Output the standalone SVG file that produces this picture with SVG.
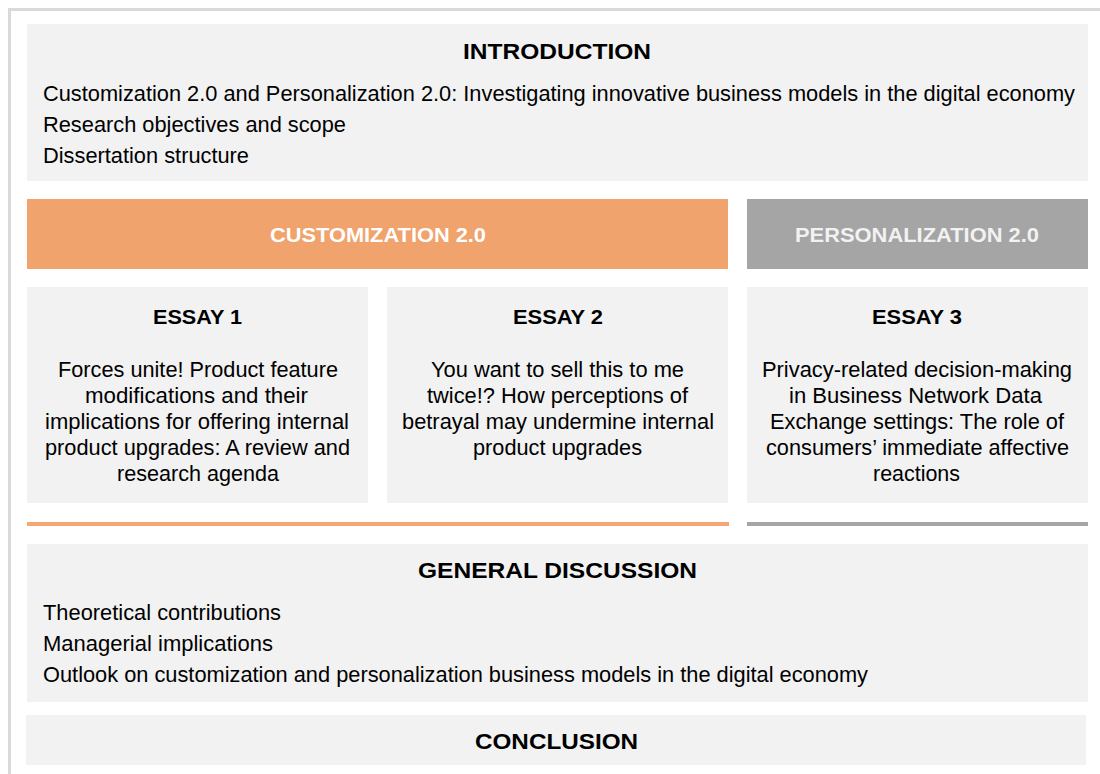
<svg xmlns="http://www.w3.org/2000/svg" width="1100" height="774" viewBox="0 0 1100 774">
<style>
.box{fill:#f2f2f2}
.t{font-family:"Liberation Sans",Arial,sans-serif;font-size:21.5px;fill:#000}
.h{font-family:"Liberation Sans",Arial,sans-serif;font-size:22px;font-weight:bold;fill:#000}
.e{font-family:"Liberation Sans",Arial,sans-serif;font-size:20px;font-weight:bold;fill:#000}
.w{font-family:"Liberation Sans",Arial,sans-serif;font-size:20px;font-weight:bold;fill:#fff}
</style>
<rect x="0" y="0" width="1100" height="774" fill="#fff"/>
<rect x="9.5" y="9.5" width="1200" height="900" fill="none" stroke="#d9d9d9" stroke-width="3"/>
<g id="introduction">
<rect class="box" x="27" y="24" width="1061" height="157"/>
<text class="h" x="463" y="59" textLength="188" lengthAdjust="spacingAndGlyphs">INTRODUCTION</text>
<text class="t" x="43" y="101" textLength="1032" lengthAdjust="spacingAndGlyphs">Customization 2.0 and Personalization 2.0: Investigating innovative business models in the digital economy</text>
<text class="t" x="43" y="132" textLength="303" lengthAdjust="spacingAndGlyphs">Research objectives and scope</text>
<text class="t" x="43" y="163" textLength="206" lengthAdjust="spacingAndGlyphs">Dissertation structure</text>
</g>
<g id="customization">
<rect x="27" y="199" width="701" height="70" fill="#f0a36c"/>
<text class="w" x="270" y="242" textLength="216" lengthAdjust="spacingAndGlyphs">CUSTOMIZATION 2.0</text>
</g>
<g id="personalization">
<rect x="747" y="199" width="341" height="70" fill="#a5a5a5"/>
<text class="w" x="795" y="242" textLength="244" lengthAdjust="spacingAndGlyphs" style="fill:#f2f2f2">PERSONALIZATION 2.0</text>
</g>
<g id="essay1">
<rect class="box" x="27" y="287" width="341" height="216"/>
<text class="e" x="153" y="324" textLength="89" lengthAdjust="spacingAndGlyphs">ESSAY 1</text>
<text class="t" x="58" y="377" textLength="280" lengthAdjust="spacingAndGlyphs">Forces unite! Product feature</text>
<text class="t" x="85" y="403" textLength="223" lengthAdjust="spacingAndGlyphs">modifications and their</text>
<text class="t" x="45" y="429" textLength="304" lengthAdjust="spacingAndGlyphs">implications for offering internal</text>
<text class="t" x="45" y="455" textLength="305" lengthAdjust="spacingAndGlyphs">product upgrades: A review and</text>
<text class="t" x="117" y="481" textLength="162" lengthAdjust="spacingAndGlyphs">research agenda</text>
</g>
<g id="essay2">
<rect class="box" x="387" y="287" width="341" height="216"/>
<text class="e" x="513" y="324" textLength="90" lengthAdjust="spacingAndGlyphs">ESSAY 2</text>
<text class="t" x="431" y="377" textLength="253" lengthAdjust="spacingAndGlyphs">You want to sell this to me</text>
<text class="t" x="427" y="403" textLength="261" lengthAdjust="spacingAndGlyphs">twice!? How perceptions of</text>
<text class="t" x="402" y="429" textLength="312" lengthAdjust="spacingAndGlyphs">betrayal may undermine internal</text>
<text class="t" x="473" y="455" textLength="169" lengthAdjust="spacingAndGlyphs">product upgrades</text>
</g>
<g id="essay3">
<rect class="box" x="747" y="287" width="341" height="216"/>
<text class="e" x="872" y="324" textLength="90" lengthAdjust="spacingAndGlyphs">ESSAY 3</text>
<text class="t" x="762" y="377" textLength="310" lengthAdjust="spacingAndGlyphs">Privacy-related decision-making</text>
<text class="t" x="789" y="403" textLength="253" lengthAdjust="spacingAndGlyphs">in Business Network Data</text>
<text class="t" x="770" y="429" textLength="294" lengthAdjust="spacingAndGlyphs">Exchange settings: The role of</text>
<text class="t" x="766" y="455" textLength="303" lengthAdjust="spacingAndGlyphs">consumers’ immediate affective</text>
<text class="t" x="873" y="481" textLength="87" lengthAdjust="spacingAndGlyphs">reactions</text>
</g>
<g id="connectors">
<rect x="27" y="522" width="702" height="4" fill="#f4a774"/>
<rect x="747" y="522" width="341" height="4" fill="#a5a5a5"/>
</g>
<g id="general-discussion">
<rect class="box" x="27" y="544" width="1061" height="158"/>
<text class="h" x="418" y="578" textLength="279" lengthAdjust="spacingAndGlyphs">GENERAL DISCUSSION</text>
<text class="t" x="43" y="620" textLength="238" lengthAdjust="spacingAndGlyphs">Theoretical contributions</text>
<text class="t" x="43" y="651" textLength="230" lengthAdjust="spacingAndGlyphs">Managerial implications</text>
<text class="t" x="43" y="682" textLength="825" lengthAdjust="spacingAndGlyphs">Outlook on customization and personalization business models in the digital economy</text>
</g>
<g id="conclusion">
<rect class="box" x="26" y="715" width="1060" height="50"/>
<text class="h" x="475" y="749" textLength="163" lengthAdjust="spacingAndGlyphs">CONCLUSION</text>
</g>
</svg>
